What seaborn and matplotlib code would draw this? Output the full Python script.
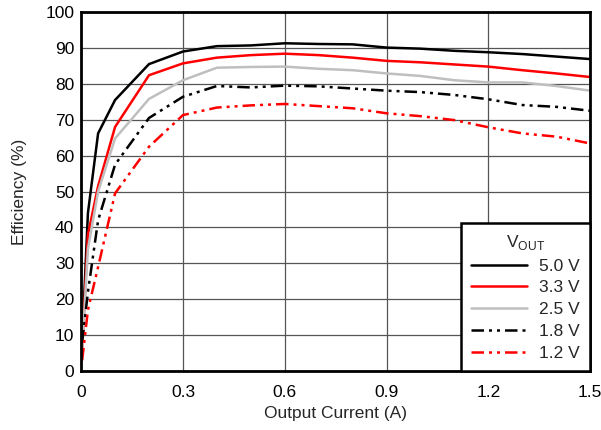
import pandas as pd
import numpy as np
import seaborn as sns
import matplotlib.pyplot as plt

current = [0.003, 0.02, 0.05, 0.1, 0.2, 0.3, 0.4, 0.5, 0.6, 0.7, 0.8, 0.9, 1.0, 1.1, 1.2, 1.3, 1.4, 1.5]
eff_50 = [8, 44, 66.2, 75.5, 85.5, 89.0, 90.5, 90.7, 91.3, 91.1, 91.0, 90.1, 89.8, 89.2, 88.8, 88.3, 87.6, 86.9]
eff_33 = [6, 38, 51.5, 68.0, 82.4, 85.7, 87.3, 88.0, 88.4, 88.0, 87.3, 86.4, 86.0, 85.4, 84.8, 83.8, 82.9, 81.9]
eff_25 = [6, 34, 50.0, 64.8, 75.8, 81.0, 84.5, 84.7, 84.8, 84.2, 83.8, 82.9, 82.2, 81.0, 80.4, 80.4, 79.4, 78.1]
eff_18 = [8, 22, 42.0, 57.5, 70.5, 76.4, 79.4, 79.0, 79.5, 79.3, 78.7, 78.1, 77.7, 76.9, 75.7, 74.1, 73.6, 72.5]
eff_12 = [3, 17, 29.0, 49.5, 62.5, 71.3, 73.4, 74.0, 74.4, 73.8, 73.2, 71.8, 71.0, 69.9, 67.9, 66.2, 65.3, 63.4]
labels = ["5.0 V", "3.3 V", "2.5 V", "1.8 V", "1.2 V"]

df = pd.DataFrame({"I": current * 5,
                   "Eff": eff_50 + eff_33 + eff_25 + eff_18 + eff_12,
                   "Vout": np.repeat(labels, len(current))})

sns.set_style("white")
plt.rcParams['font.family'] = ['Liberation Sans', 'DejaVu Sans']
fs = 12.5

colors = {"5.0 V": "black", "3.3 V": "red", "2.5 V": "#bfbfbf", "1.8 V": "black", "1.2 V": "red"}
dashes = {"5.0 V": "", "3.3 V": "", "2.5 V": "", "1.8 V": (5, 2, 1.2, 2, 1.2, 2), "1.2 V": (5, 2, 1.2, 2, 1.2, 2)}

fig, ax = plt.subplots(figsize=(6.01, 4.30), dpi=100)
fig.subplots_adjust(left=0.135, right=0.982, top=0.972, bottom=0.137)
sns.lineplot(data=df, x="I", y="Eff", hue="Vout", style="Vout", palette=colors, dashes=dashes,
             linewidth=1.8, ax=ax)

ax.set_xlim(0, 1.5)
ax.set_ylim(0, 100)
ax.set_xticks([0, 0.3, 0.6, 0.9, 1.2, 1.5])
ax.set_xticklabels(["0", "0.3", "0.6", "0.9", "1.2", "1.5"])
ax.set_yticks(range(0, 101, 10))
ax.grid(True, color="#555555", linewidth=0.9)
ax.set_axisbelow(True)
for s in ax.spines.values():
    s.set_color("black")
    s.set_linewidth(2)
ax.tick_params(length=0, labelsize=fs, colors="black")
ax.tick_params(axis="y", pad=5)
ax.tick_params(axis="x", pad=10)
ax.set_xlabel("Output Current (A)", fontsize=fs, labelpad=4)
ax.set_ylabel("Efficiency (%)", fontsize=fs, labelpad=13)

leg = ax.legend(title="V$_{\\mathregular{OUT}}$", loc="lower right", borderaxespad=0,
                fancybox=False, framealpha=1, edgecolor="black", handlelength=3.2,
                fontsize=fs, title_fontsize=fs, labelspacing=0.38, borderpad=0.6,
                handletextpad=0.7)
leg.get_frame().set_linewidth(1.8)

plt.savefig("out.png", dpi=100)
